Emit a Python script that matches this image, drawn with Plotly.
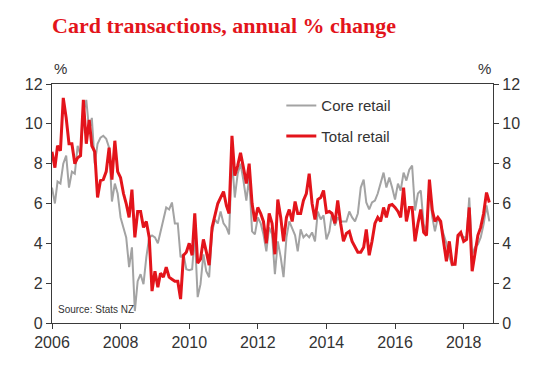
import pandas as pd
import plotly.graph_objects as go

start_month = "2006-01-01"

core_retail = [
    6.8, 6.0, 7.1, 7.0, 8.0, 8.4, 6.8, 7.6, 7.5, 8.9, 8.4, 10.5,
    11.2, 9.65, 10.3, 8.0, 9.0, 9.3, 9.4, 9.25, 8.8, 6.1, 7.0, 6.5,
    5.3, 4.8, 4.3, 2.8, 3.8, 0.6, 2.1, 2.45, 1.95, 3.3, 4.3, 4.4,
    4.3, 4.0, 4.6, 5.3, 5.8, 5.7, 6.05, 5.0, 5.0, 3.3, 3.45, 2.7,
    2.65, 2.7, 4.45, 1.3, 1.95, 3.45, 2.6, 2.3, 4.55, 5.2, 5.0, 5.6,
    5.0, 4.8, 4.45, 8.25, 6.3, 7.5, 8.0, 7.15, 6.15, 7.3, 4.6, 4.45,
    5.3, 5.0, 4.45, 3.6, 4.8, 4.45, 2.45, 4.1, 3.3, 2.3, 4.3, 5.1,
    4.7, 4.4, 3.6, 4.7, 4.3, 4.45, 4.3, 4.55, 4.1, 5.6, 5.2, 5.4,
    4.2, 4.6, 5.5, 4.9, 5.3, 5.1, 5.1, 5.1, 5.6, 5.3, 5.1, 5.5,
    6.8, 7.2, 6.05, 5.7, 6.05, 6.15, 6.5, 7.0, 7.55, 6.8, 7.3, 6.8,
    6.2, 7.0, 6.65, 7.55, 7.15, 7.7, 7.9, 5.65, 6.5, 6.65, 4.95, 4.6,
    6.8, 5.3, 4.6, 5.3, 4.95, 4.45, 4.0, 3.3, 2.9, 2.95, 4.3, 4.45,
    4.3, 4.3, 6.3, 3.45, 3.8, 3.95, 4.3, 4.95, 5.9, 5.1,
]

total_retail = [
    8.6, 7.8, 8.9, 8.65, 11.3, 10.3, 9.0, 9.0, 8.0, 8.3, 8.4, 11.2,
    9.0, 10.2, 8.9, 8.6, 6.3, 7.15, 7.2, 7.6, 8.8, 7.2, 9.15, 7.6,
    7.3, 6.5, 6.0, 5.3, 6.7, 4.3, 5.6, 5.6, 4.8, 5.1, 4.3, 1.6,
    2.6, 1.8, 2.5, 2.3, 2.8, 2.3, 2.2, 2.1, 2.1, 1.2, 3.4, 3.55,
    4.0, 3.4, 5.5, 3.0, 3.2, 4.2, 3.6, 2.9, 4.8, 5.4, 6.0, 6.3,
    6.6, 5.9, 5.5, 9.4, 7.4, 7.9, 8.55, 7.8, 7.0, 8.0, 6.0, 5.1,
    5.8, 5.5, 5.1, 4.0, 5.5, 5.0, 3.45, 6.2, 5.3, 4.1, 5.3, 5.7,
    5.1, 6.1, 5.5, 5.5, 6.15, 6.5, 7.5, 6.0, 5.2, 6.2, 6.3, 6.65,
    5.55, 5.6, 5.5, 5.0, 6.15, 5.0, 4.1, 4.5, 4.6, 4.1, 3.8, 3.55,
    3.55, 3.8, 4.7, 3.4, 4.1, 5.0, 5.3, 5.1, 5.8, 5.3, 5.9, 5.95,
    5.8, 5.6, 5.3, 6.8, 5.1, 5.8, 5.8, 4.1, 5.0, 5.7, 4.55, 4.4,
    7.2, 5.65, 5.1, 5.3, 5.1, 4.2, 3.1, 4.1, 2.95, 2.95, 4.4, 4.55,
    4.1, 4.2, 5.8, 2.6, 3.45, 4.4, 4.8, 5.5, 6.55, 6.05,
]

dates = pd.date_range(start_month, periods=len(total_retail), freq="MS")

year_ticks = [2006, 2008, 2010, 2012, 2014, 2016, 2018]
y_ticks = [0, 2, 4, 6, 8, 10, 12]

TEXT = "#333333"
AXIS = "#3a3a3a"
RED = "#E3141B"
GREY = "#A3A3A3"
SANS = "Liberation Sans, Arial, sans-serif"

fig = go.Figure()
fig.add_trace(go.Scatter(
    x=dates, y=core_retail, name="Core retail", mode="lines",
    line=dict(color=GREY, width=2), legendgroup="a", yaxis="y",
))
fig.add_trace(go.Scatter(
    x=dates, y=total_retail, name="Total retail", mode="lines",
    line=dict(color=RED, width=3), legendgroup="b", yaxis="y2",
))

fig.update_layout(
    width=545, height=365,
    margin=dict(l=44, r=60, t=76, b=50),
    paper_bgcolor="white", plot_bgcolor="white",
    font=dict(family=SANS, size=16, color=TEXT),
    title=dict(
        text="<b>Card transactions, annual % change</b>",
        font=dict(family="Liberation Serif, Times New Roman, serif", size=22, color=RED),
        xref="paper", x=0, xanchor="left",
        yref="container", y=1 - 17 / 365, yanchor="middle",
    ),
    showlegend=True,
    legend=dict(
        x=0.52, y=0.978, xanchor="left", yanchor="top",
        font=dict(family=SANS, size=15, color=TEXT),
        bgcolor="rgba(0,0,0,0)", borderwidth=0,
        traceorder="grouped", tracegroupgap=8, itemwidth=30,
    ),
    xaxis=dict(
        type="date",
        range=["2006-01-01", "2018-11-09"],
        tickvals=[f"{y}-01-01" for y in year_ticks],
        ticktext=[str(y) for y in year_ticks],
        ticks="outside", ticklen=5, tickwidth=1.3, tickcolor=AXIS,
        showline=True, linecolor=AXIS, linewidth=1.3, mirror=True,
        showgrid=False, zeroline=False,
        tickfont=dict(family=SANS, size=16, color=TEXT),
    ),
    yaxis=dict(
        range=[0, 12], tickvals=y_ticks,
        ticks="outside", ticklen=5, tickwidth=1.3, tickcolor=AXIS,
        showline=True, linecolor=AXIS, linewidth=1.3,
        showgrid=False, zeroline=False,
        tickfont=dict(family=SANS, size=16, color=TEXT),
    ),
    yaxis2=dict(
        range=[0, 12], tickvals=y_ticks, overlaying="y", side="right",
        ticks="outside", ticklen=5, tickwidth=1.3, tickcolor=AXIS,
        showline=True, linecolor=AXIS, linewidth=1.3,
        showgrid=False, zeroline=False,
        tickfont=dict(family=SANS, size=16, color=TEXT),
    ),
    annotations=[
        dict(text="%", xref="paper", yref="paper", x=0, y=1.02,
             xanchor="left", yanchor="bottom", showarrow=False,
             font=dict(family=SANS, size=15, color=TEXT)),
        dict(text="%", xref="paper", yref="paper", x=1, y=1.02,
             xanchor="right", yanchor="bottom", showarrow=False,
             font=dict(family=SANS, size=15, color=TEXT)),
        dict(text="Source: Stats NZ", xref="paper", yref="paper", x=0.008, y=0.057,
             xanchor="left", yanchor="middle", showarrow=False,
             font=dict(family=SANS, size=10, color=TEXT)),
    ],
)

fig.write_html("out.html")
